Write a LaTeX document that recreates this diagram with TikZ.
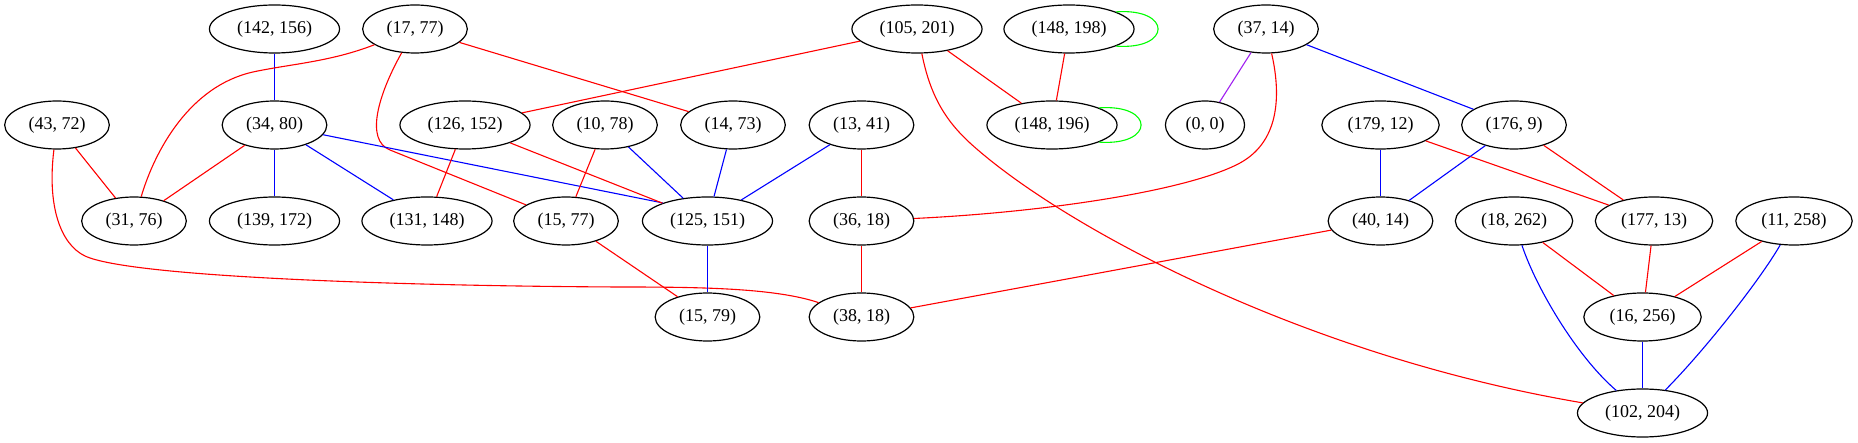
\documentclass[tikz,border=0pt]{standalone}
\usepackage{fontspec}
\setmainfont{Liberation Serif}
\usetikzlibrary{shapes.geometric}
\definecolor{gvpurple}{RGB}{160,32,240}
\definecolor{gvgreen}{RGB}{0,255,0}
\definecolor{gvred}{RGB}{255,0,0}
\definecolor{gvblue}{RGB}{0,0,255}
\begin{document}
\begin{tikzpicture}[x=1pt,y=-1pt,
  vert/.style={ellipse,draw,line width=1.2pt,inner xsep=8.5pt,inner ysep=2pt,minimum height=48pt,font=\fontsize{18}{20}\selectfont},
  re/.style={gvred,line width=1.1pt},
  be/.style={gvblue,line width=1.1pt},
  ge/.style={gvgreen,line width=1.1pt},
  pe/.style={gvpurple,line width=1.1pt}]
\useasboundingbox (0,0) rectangle (1858,443);
% row 1
\node[vert] (n142x156) at (274.5,29) {(142, 156)};
\node[vert] (n17x77) at (415,29) {(17, 77)};
\node[vert] (n105x201) at (917,29) {(105, 201)};
\node[vert] (n148x198) at (1069,29) {(148, 198)};
\node[vert] (n37x14) at (1266,29) {(37, 14)};
% row 2
\node[vert] (n43x72) at (57,125) {(43, 72)};
\node[vert] (n34x80) at (274.5,125) {(34, 80)};
\node[vert] (n126x152) at (465,125) {(126, 152)};
\node[vert] (n10x78) at (605,125) {(10, 78)};
\node[vert] (n14x73) at (733,125) {(14, 73)};
\node[vert] (n13x41) at (861.5,125) {(13, 41)};
\node[vert] (n148x196) at (1052,125) {(148, 196)};
\node[vert] (n0x0) at (1205,125) {(0, 0)};
\node[vert] (n179x12) at (1380.5,125) {(179, 12)};
\node[vert] (n176x9) at (1514,125) {(176, 9)};
% row 3
\node[vert] (n31x76) at (134,221) {(31, 76)};
\node[vert] (n139x172) at (274.5,221) {(139, 172)};
\node[vert] (n131x148) at (427,221) {(131, 148)};
\node[vert] (n15x77) at (566,221) {(15, 77)};
\node[vert] (n125x151) at (707.5,221) {(125, 151)};
\node[vert] (n36x18) at (861.5,221) {(36, 18)};
\node[vert] (n40x14) at (1380.5,221) {(40, 14)};
\node[vert] (n18x262) at (1514,221) {(18, 262)};
\node[vert] (n177x13) at (1654,221) {(177, 13)};
\node[vert] (n11x258) at (1794,221) {(11, 258)};
% row 4
\node[vert] (n15x79) at (707.5,317) {(15, 79)};
\node[vert] (n38x18) at (861.5,317) {(38, 18)};
\node[vert] (n16x256) at (1642.5,317) {(16, 256)};
% row 5
\node[vert] (n102x204) at (1642.5,413) {(102, 204)};

% edges
\draw[be] (n142x156) -- (n34x80);
\draw[re] (n17x77) .. controls (330,62) and (290,64) .. (253,72) .. controls (190,86) and (155,150) .. (n31x76);
\draw[re] (n17x77) .. controls (378,95) and (365,140) .. (390,150) -- (n15x77);
\draw[re] (n17x77) -- (n14x73);
\draw[re] (n105x201) -- (n126x152);
\draw[re] (n105x201) -- (n148x196);
\draw[re] (n105x201) .. controls (930,95) and (945,120) .. (970,143) .. controls (1060,225) and (1300,355) .. (n102x204);
\draw[ge] (n148x198.20) .. controls +(56,-4) and +(56,4) .. (n148x198.-20);
\draw[re] (n148x198) -- (n148x196);
\draw[ge] (n148x196.20) .. controls +(56,-4) and +(56,4) .. (n148x196.-20);
\draw[pe] (n37x14) -- (n0x0);
\draw[re] (n37x14) .. controls (1280,90) and (1282,140) .. (1240,163) .. controls (1190,190) and (1050,212) .. (n36x18);
\draw[be] (n37x14) -- (n176x9);
\draw[re] (n43x72) -- (n31x76);
\draw[re] (n43x72) .. controls (47,205) and (60,244) .. (85,256) .. controls (130,277) and (400,286) .. (620,287) .. controls (700,287) and (775,288) .. (n38x18);
\draw[re] (n34x80) -- (n31x76);
\draw[be] (n34x80) -- (n139x172);
\draw[be] (n34x80) -- (n131x148);
\draw[be] (n34x80) -- (n125x151.158);
\draw[re] (n126x152) -- (n131x148);
\draw[re] (n126x152) -- (n125x151);
\draw[re] (n10x78) -- (n15x77);
\draw[be] (n10x78) -- (n125x151);
\draw[be] (n14x73) -- (n125x151);
\draw[be] (n13x41) -- (n125x151);
\draw[re] (n13x41) -- (n36x18);
\draw[re] (n15x77) -- (n15x79);
\draw[be] (n125x151) -- (n15x79);
\draw[re] (n36x18) -- (n38x18);
\draw[re] (n40x14) -- (n38x18);
\draw[be] (n179x12) -- (n40x14);
\draw[re] (n179x12) -- (n177x13);
\draw[be] (n176x9) -- (n40x14);
\draw[re] (n176x9) -- (n177x13);
\draw[re] (n18x262) -- (n16x256);
\draw[be] (n18x262) .. controls (1535,285) and (1575,355) .. (n102x204);
\draw[re] (n177x13) -- (n16x256);
\draw[re] (n11x258) -- (n16x256);
\draw[be] (n11x258) .. controls (1760,280) and (1705,350) .. (n102x204);
\draw[be] (n16x256) -- (n102x204);
\end{tikzpicture}
\end{document}
